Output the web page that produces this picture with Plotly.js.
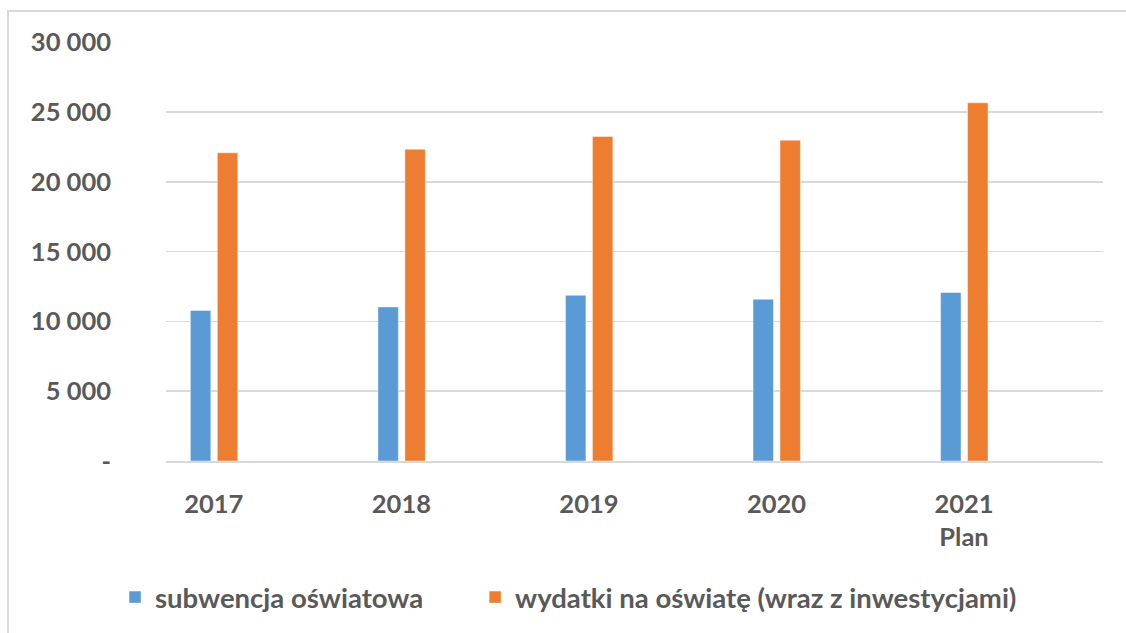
<!DOCTYPE html>
<html>
<head>
<meta charset="utf-8">
<script src="https://cdn.plot.ly/plotly-3.0.1.min.js"></script>
<style>
html,body{margin:0;padding:0;background:#fff;overflow:hidden;}
#chart{width:1126px;height:633px;}
#frame{position:absolute;left:7px;top:10px;width:1300px;height:800px;border-left:2px solid #d9d9d9;border-top:2px solid #d9d9d9;pointer-events:none;}
</style>
</head>
<body>
<div id="chart"></div>
<div id="frame"></div>
<script>
const categories = ["2017", "2018", "2019", "2020", "2021<br>Plan"];
const seriesNames = ["subwencja oświatowa", "wydatki na oświatę (wraz z inwestycjami)"];
const subwencja = [10780, 11040, 11870, 11590, 12070];
const wydatki = [22080, 22340, 23250, 22980, 25660];
const yTickVals = [0, 5000, 10000, 15000, 20000, 25000, 30000];
const yTickText = ["-", "5 000", "10 000", "15 000", "20 000", "25 000", "30 000"];

const fam = "Lato, 'Open Sans', sans-serif";
const tickFont = {family: fam, color: "#595959", size: 25.5, weight: 700};
const legFont = {family: fam, color: "#595959", size: 27.5, weight: 700};

const traces = [
  {
    type: "bar", name: seriesNames[0], x: categories, y: subwencja,
    width: 0.109, offset: -0.125, legend: "legend",
    marker: {color: "#5B9BD5", line: {color: "rgba(255,255,255,0.45)", width: 1}},
    hoverinfo: "y"
  },
  {
    type: "bar", name: seriesNames[1], x: categories, y: wydatki,
    width: 0.109, offset: 0.0187, legend: "legend2",
    marker: {color: "#ED7D31", line: {color: "rgba(255,255,255,0.45)", width: 1}},
    hoverinfo: "y"
  }
];

const layout = {
  width: 1126, height: 633,
  margin: {l: 166, r: 23, t: 42, b: 171},
  paper_bgcolor: "#fff", plot_bgcolor: "#fff",
  font: tickFont,
  barmode: "overlay",
  showlegend: true,
  legend: {
    orientation: "h", x: -0.0544, xanchor: "left", y: -0.322, yanchor: "middle",
    font: legFont, bgcolor: "rgba(0,0,0,0)"
  },
  legend2: {
    orientation: "h", x: 0.3299, xanchor: "left", y: -0.322, yanchor: "middle",
    font: legFont, bgcolor: "rgba(0,0,0,0)"
  },
  xaxis: {
    type: "category", range: [-0.255, 4.741],
    showgrid: false, zeroline: false, showline: true, linecolor: "#d9d9d9", linewidth: 1.5,
    ticks: "", tickfont: tickFont, ticklabelstandoff: 20, fixedrange: true
  },
  yaxis: {
    range: [0, 30015], tickvals: yTickVals, ticktext: yTickText,
    showgrid: true, gridcolor: "#d9d9d9", gridwidth: 1.5, zeroline: false, showline: false,
    ticks: "", tickfont: tickFont, ticklabelstandoff: 54, fixedrange: true
  }
};

Plotly.newPlot("chart", traces, layout, {displayModeBar: false, staticPlot: true});
</script>
</body>
</html>
